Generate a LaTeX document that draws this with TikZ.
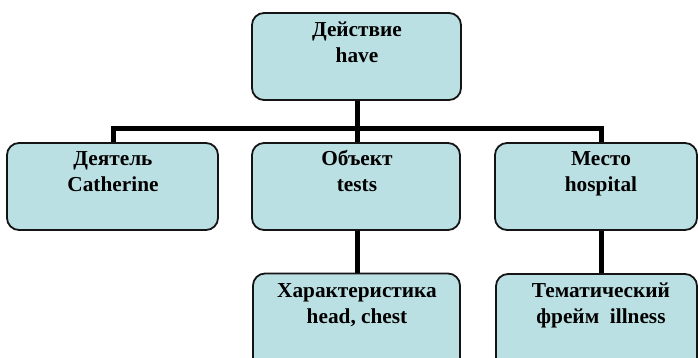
\documentclass[tikz,border=0pt]{standalone}
\usepackage{fontspec}
\setmainfont{Liberation Serif}
\definecolor{boxfill}{RGB}{187,224,227}
\definecolor{boxline}{RGB}{20,20,20}
\begin{document}
\begin{tikzpicture}[x=1pt,y=-1pt,
  box/.style={draw=boxline, line width=1.8pt, fill=boxfill, rounded corners=12pt, inner sep=0pt},
  lbl/.style={font=\bfseries\fontsize{21.3}{26}\selectfont, align=center, anchor=base, inner sep=0pt},
  conn/.style={draw=black, line width=5pt}]
\useasboundingbox (0,0) rectangle (698,358);
\clip (0,0) rectangle (698,358);
% boxes
\node[box, minimum width=209pt, minimum height=87pt] (act) at (356.5,56.5) {};
\node[box, minimum width=211pt, minimum height=87pt] (doer) at (112.5,186.5) {};
\node[box, minimum width=208pt, minimum height=87pt] (obj) at (356,186.5) {};
\node[box, minimum width=202pt, minimum height=87pt] (place) at (596,186.5) {};
\node[box, minimum width=207pt, minimum height=107pt] (char) at (356.5,327) {};
\node[box, minimum width=201pt, minimum height=107pt] (frame) at (596.5,327.5) {};
% texts (anchor=base is the last line's baseline)
\node[lbl] (acttxt) at (357,63) {Действие\\have};
\node[lbl] (doertxt) at (113,192) {Деятель\\Catherine};
\node[lbl] (objtxt) at (357,192) {Объект\\tests};
\node[lbl] (placetxt) at (601,192) {Место\\hospital};
\node[lbl] (chartxt) at (357,323) {Характеристика\\head, chest};
\node[lbl] (frametxt) at (601,323) {Тематический\\фрейм\ \ illness};
% connectors
\coordinate (bus) at (357,129);
\draw[conn] (act.south -| acttxt) -- (bus);
\draw[conn] (doer.north -| doertxt) |- (bus);
\draw[conn] (place.north -| placetxt) |- (bus);
\draw[conn] (obj.north -| objtxt) -- (bus);
\draw[conn] (obj.south -| chartxt) -- (char.north -| chartxt);
\draw[conn] (place.south -| frametxt) -- (frame.north -| frametxt);
\end{tikzpicture}
\end{document}
